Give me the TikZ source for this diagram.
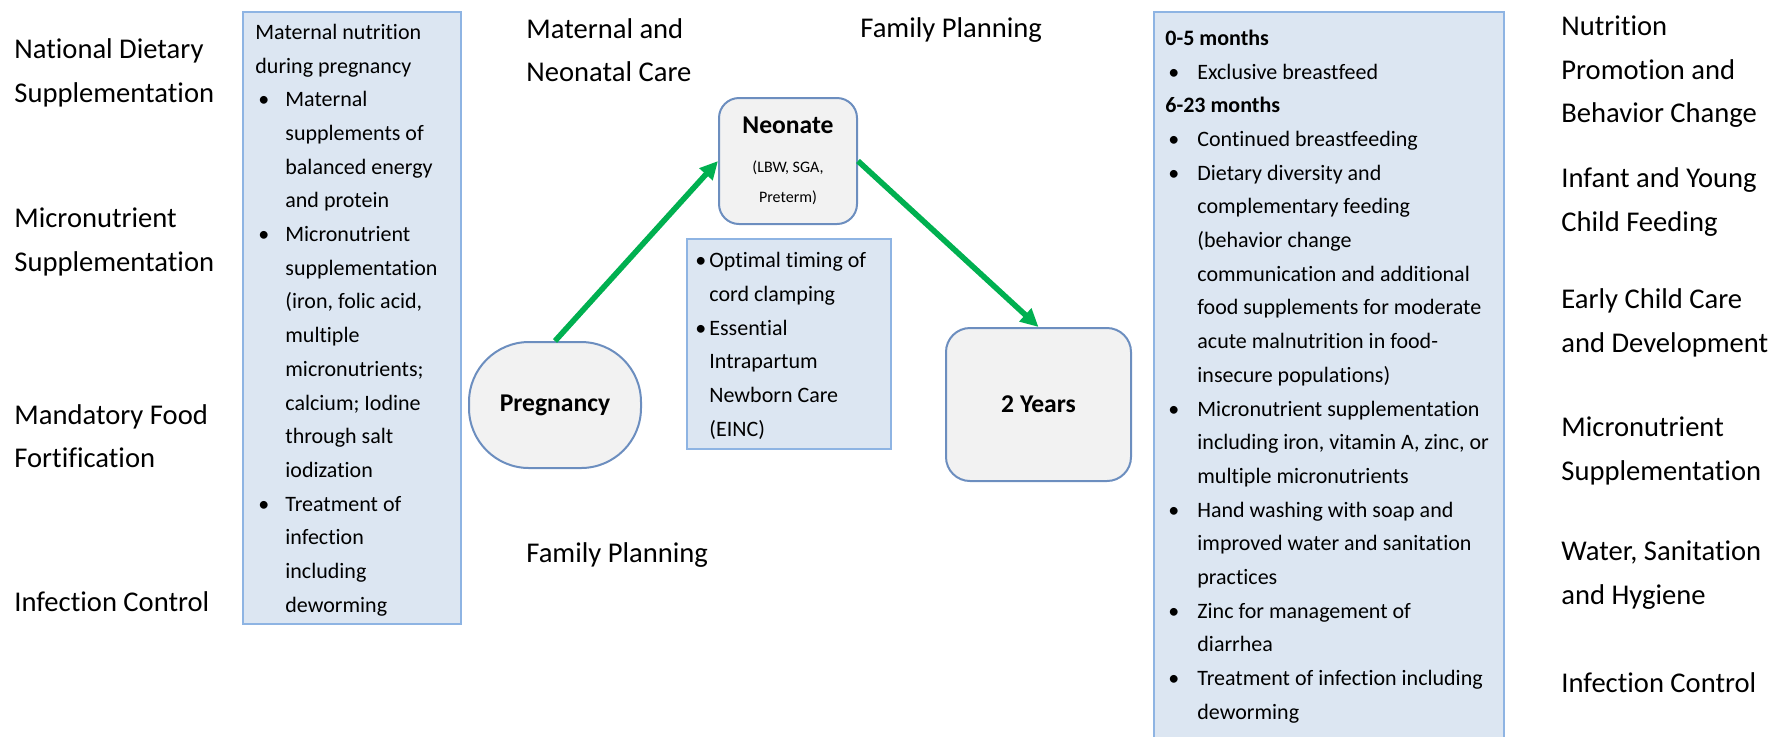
\documentclass[tikz,border=0pt]{standalone}
\usepackage{fontspec}
\setmainfont{Carlito}[Ligatures=NoCommon]
\usepackage{tikz}
\usetikzlibrary{arrows.meta}
\definecolor{boxfill}{HTML}{DCE6F2}
\definecolor{boxline}{HTML}{8EB4E3}
\definecolor{stagefill}{HTML}{F2F2F2}
\definecolor{stageline}{HTML}{6C8EBF}
\definecolor{arrowgreen}{HTML}{00B050}
\newcommand{\bul}[1]{\makebox[#1][l]{\hspace{1.5pt}\textbullet}}
\newcommand{\ind}[1]{\hspace*{#1}}

\begin{document}
\begin{tikzpicture}[x=0.5pt,y=-0.5pt,
  lab/.style={anchor=west,inner sep=0pt,align=left,font=\fontsize{14.3}{21.75}\selectfont},
  infobox/.style={draw=boxline,fill=boxfill,line width=1pt,inner sep=0pt},
  boxtext/.style={anchor=west,inner sep=0pt,align=left,font=\fontsize{11}{16.85}\selectfont},
  stage/.style={draw=stageline,fill=stagefill,line width=1pt,font=\fontsize{12.8}{15}\selectfont\bfseries},
  flow/.style={arrowgreen,line width=2.8pt,-{Triangle[length=9pt,width=8.5pt]}}]
  \useasboundingbox (0,0) rectangle (1773,736);
  \clip (0,0) rectangle (1773,736);

  % programme labels, left and right
  \foreach \y/\txt [count=\i] in {73/{National Dietary\\Supplementation},
    242/{Micronutrient\\Supplementation}, 436/{Mandatory Food\\Fortification},
    602/{Infection Control}}
    \node[lab] (left\i) at (14,\y) {\txt};
  \foreach \y/\txt [count=\i] in {72/{Nutrition\\Promotion and\\Behavior Change},
    202/{Infant and Young\\Child Feeding}, 323/{Early Child Care\\and Development},
    451/{Micronutrient\\Supplementation}, 575/{Water, Sanitation\\and Hygiene},
    683/{Infection Control}}
    \node[lab] (right\i) at (1561,\y) {\txt};

  \node[lab] (mnc) at (526,50) {Maternal and\\Neonatal Care};
  \node[lab] (fptop) at (860,30) {Family Planning};
  \node[lab] (fpbot) at (526,555) {Family Planning};

  % maternal nutrition box
  \node[infobox,minimum width=109pt,minimum height=306pt] (matbox) at (352,318) {};
  \node[boxtext] (mattext) at (255,320) {Maternal nutrition\\during pregnancy\\
    \bul{15pt}Maternal\\\ind{15pt}supplements of\\\ind{15pt}balanced energy\\\ind{15pt}and protein\\
    \bul{15pt}Micronutrient\\\ind{15pt}supplementation\\\ind{15pt}(iron, folic acid,\\\ind{15pt}multiple\\
    \ind{15pt}micronutrients;\\\ind{15pt}calcium; Iodine\\\ind{15pt}through salt\\\ind{15pt}iodization\\
    \bul{15pt}Treatment of\\\ind{15pt}infection\\\ind{15pt}including\\\ind{15pt}deworming};

  % infant and young child box
  \node[infobox,minimum width=175pt,minimum height=364.5pt] (iycfbox) at (1329,376.5) {};
  \node[boxtext] (iycftext) at (1165,376.5) {\textbf{0-5 months}\\
    \bul{16pt}Exclusive breastfeed\\
    \textbf{6-23 months}\\
    \bul{16pt}Continued breastfeeding\\
    \bul{16pt}Dietary diversity and\\\ind{16pt}complementary feeding\\\ind{16pt}(behavior change\\
    \ind{16pt}communication and additional\\\ind{16pt}food supplements for moderate\\
    \ind{16pt}acute malnutrition in food-\\\ind{16pt}insecure populations)\\
    \bul{16pt}Micronutrient supplementation\\\ind{16pt}including iron, vitamin A, zinc, or\\
    \ind{16pt}multiple micronutrients\\
    \bul{16pt}Hand washing with soap and\\\ind{16pt}improved water and sanitation\\\ind{16pt}practices\\
    \bul{16pt}Zinc for management of\\\ind{16pt}diarrhea\\
    \bul{16pt}Treatment of infection including\\\ind{16pt}deworming};

  % EINC box
  \node[infobox,minimum width=102pt,minimum height=105pt] (eincbox) at (789,344) {};
  \node[boxtext] (eincitext) at (692,346) {\bul{8.5pt}Optimal timing of\\\ind{8.5pt}cord clamping\\
    \bul{8.5pt}Essential\\\ind{8.5pt}Intrapartum\\\ind{8.5pt}Newborn Care\\\ind{8.5pt}(EINC)};

  % life stages
  \node[stage,rounded corners=10pt,minimum width=69pt,minimum height=63pt,align=center] (neo) at (788,161)
    {Neonate\\[4.5pt]{\fontsize{8}{11.5}\selectfont\mdseries (LBW, SGA,}\\{\fontsize{8}{11.5}\selectfont\mdseries Preterm)}};
  \node[stage,rounded corners=30pt,minimum width=86pt,minimum height=63pt] (preg) at (555,405) {Pregnancy};
  \node[stage,rounded corners=12pt,minimum width=92.5pt,minimum height=76.5pt] (two) at (1038.5,404.5) {2 Years};

  \draw[flow] (preg.north) -- (neo.west);
  \draw[flow] (neo.east) -- (two.north);
\end{tikzpicture}
\end{document}
